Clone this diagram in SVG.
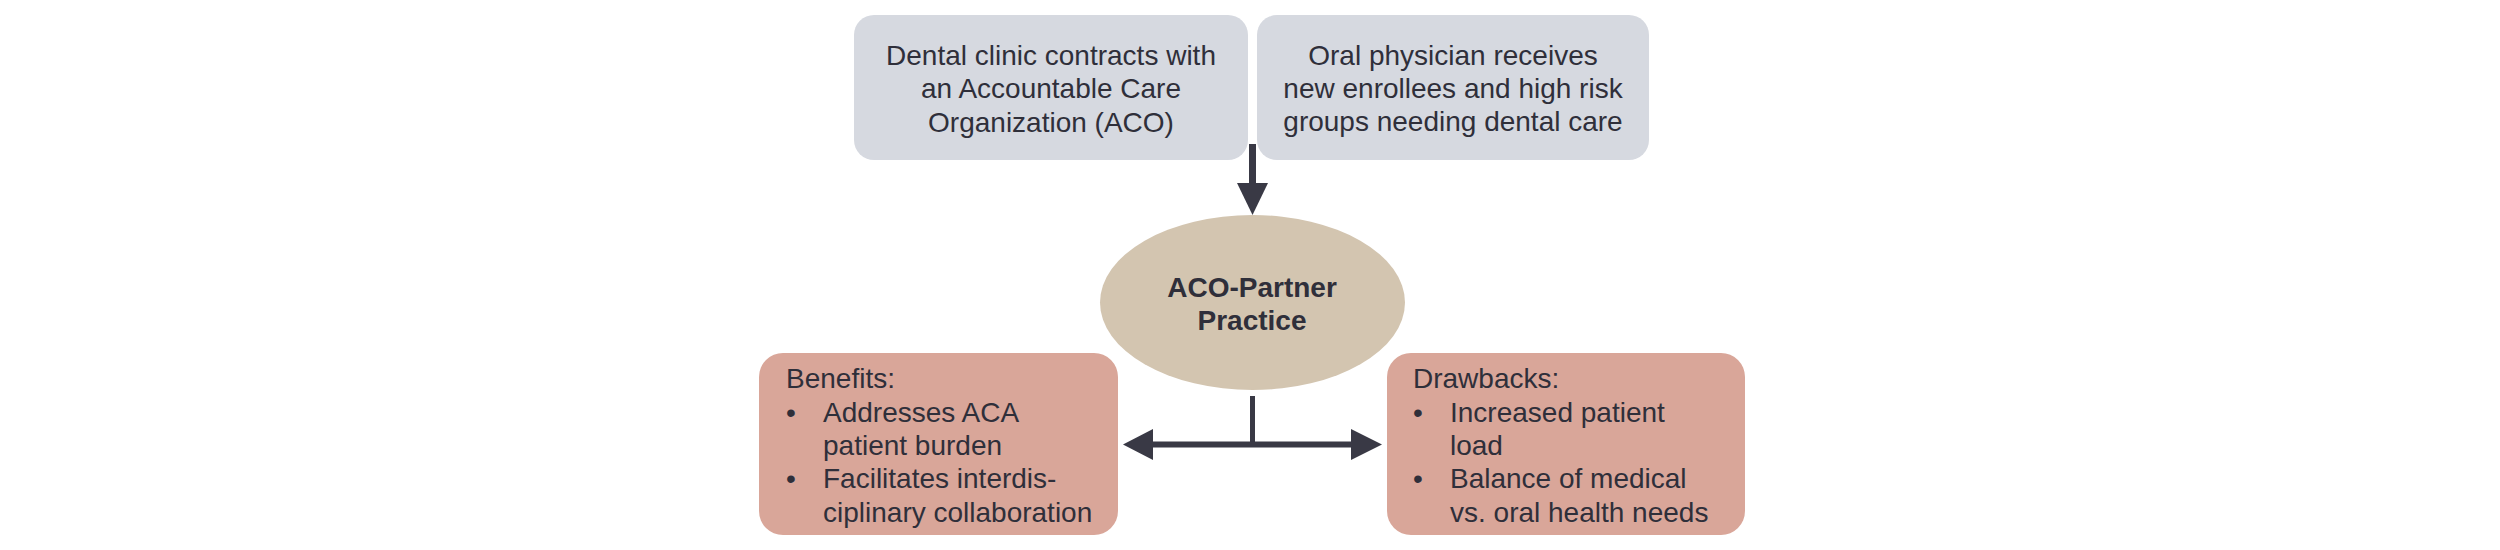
<svg xmlns="http://www.w3.org/2000/svg" width="2500" height="550" viewBox="0 0 2500 550">
<defs>
<style>
.t{font-family:"Liberation Sans",Arial,sans-serif;font-size:28px;fill:#2f2f3a}
.c{text-anchor:middle}
.b{font-weight:bold}
.top{fill:#d6d9e0}
.bot{fill:#d9a699}
.ell{fill:#d3c5b0}
.ln{stroke:#393945;fill:none}
.hd{fill:#393945}
</style>
</defs>
<rect width="2500" height="550" fill="#ffffff"/>
<g id="node-dental-clinic">
<rect class="top" x="854" y="15" width="394" height="145" rx="20"/>
<text class="t c" x="1051" y="65">Dental clinic contracts with</text>
<text class="t c" x="1051" y="98">an Accountable Care</text>
<text class="t c" x="1051" y="132">Organization (ACO)</text>
</g>
<g id="node-oral-physician">
<rect class="top" x="1257" y="15" width="392" height="145" rx="20"/>
<text class="t c" x="1453" y="65">Oral physician receives</text>
<text class="t c" x="1453" y="98">new enrollees and high risk</text>
<text class="t c" x="1453" y="131">groups needing dental care</text>
</g>
<g id="node-aco-partner">
<ellipse class="ell" cx="1252.5" cy="302.5" rx="152.5" ry="87.5"/>
<text class="t c b" x="1252" y="297">ACO-Partner</text>
<text class="t c b" x="1252" y="330">Practice</text>
</g>
<g id="node-benefits">
<rect class="bot" x="759" y="353" width="359" height="182" rx="24"/>
<text class="t" x="786" y="388">Benefits:</text>
<text class="t" x="786" y="422">•</text>
<text class="t" x="823" y="422">Addresses ACA</text>
<text class="t" x="823" y="455">patient burden</text>
<text class="t" x="786" y="488">•</text>
<text class="t" x="823" y="488">Facilitates interdis-</text>
<text class="t" x="823" y="522">ciplinary collaboration</text>
</g>
<g id="node-drawbacks">
<rect class="bot" x="1387" y="353" width="358" height="182" rx="24"/>
<text class="t" x="1413" y="388">Drawbacks:</text>
<text class="t" x="1413" y="422">•</text>
<text class="t" x="1450" y="422">Increased patient</text>
<text class="t" x="1450" y="455">load</text>
<text class="t" x="1413" y="488">•</text>
<text class="t" x="1450" y="488">Balance of medical</text>
<text class="t" x="1450" y="522">vs. oral health needs</text>
</g>
<g id="connectors">
<line class="ln" x1="1252.5" y1="144" x2="1252.5" y2="185" stroke-width="7"/>
<polygon class="hd" points="1237,183 1268,183 1252.5,215"/>
<line class="ln" x1="1252.5" y1="396" x2="1252.5" y2="444" stroke-width="5"/>
<line class="ln" x1="1150" y1="444.5" x2="1354" y2="444.5" stroke-width="6"/>
<polygon class="hd" points="1123,444.5 1153,429 1153,460"/>
<polygon class="hd" points="1382,444.5 1351,429 1351,460"/>
</g>
</svg>
